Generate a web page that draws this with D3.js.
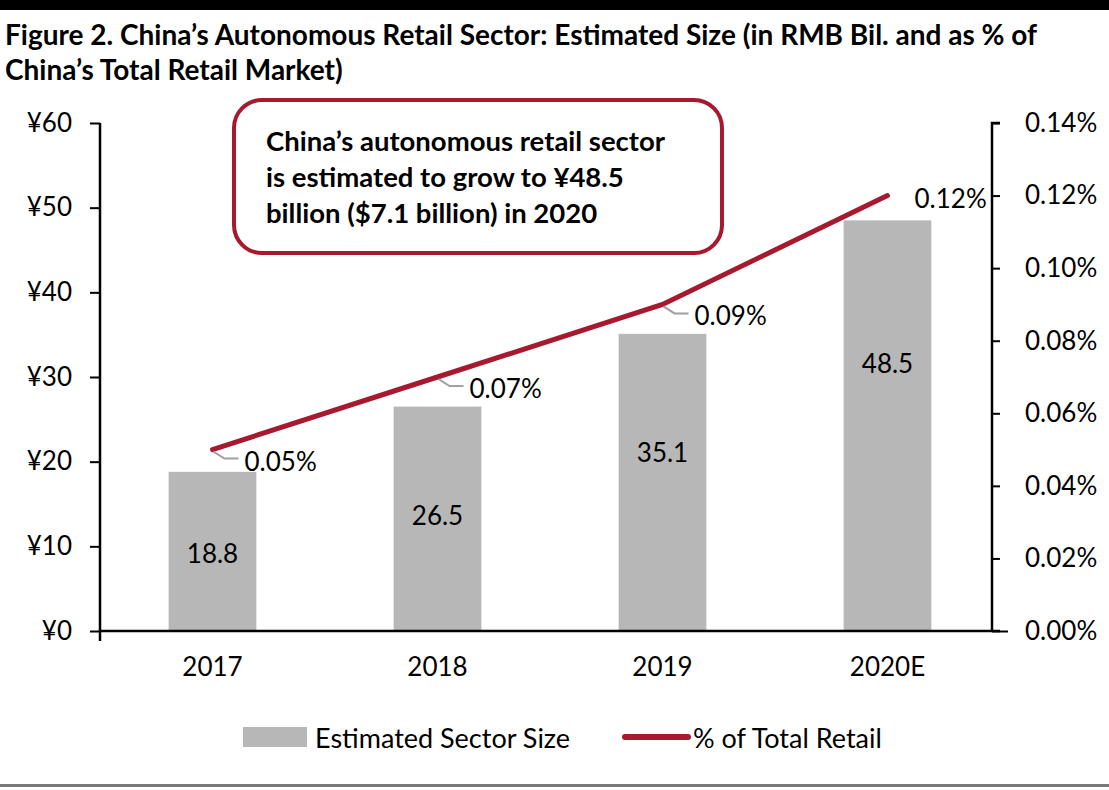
<!DOCTYPE html>
<html><head><meta charset="utf-8">
<script src="https://cdn.jsdelivr.net/npm/d3@7"></script>
<style>body{margin:0;background:#fff}svg{display:block}text{font-family:Lato,"Open Sans",sans-serif}</style>
</head><body>
<svg id="c" width="1109" height="790"></svg>
<script>
const categories = ["2017","2018","2019","2020E"];
const sectorSize = [18.8, 26.5, 35.1, 48.5];
const sizeLabels = ["18.8","26.5","35.1","48.5"];
const sizeLabelAt = [9.2, 13.7, 21.1, 31.7];
const pctRetail = [0.05, 0.07, 0.09, 0.12];
const pctLabels = ["0.05%","0.07%","0.09%","0.12%"];
const leftTicks = [0,10,20,30,40,50,60];
const rightTicks = [0,0.02,0.04,0.06,0.08,0.10,0.12,0.14];
const titleLines = ["Figure 2. China\u2019s Autonomous Retail Sector: Estimated Size (in RMB Bil. and as % of","China\u2019s Total Retail Market)"];
const noteLines = ["China\u2019s autonomous retail sector","is estimated to grow to \u00a548.5","billion ($7.1 billion) in 2020"];
const legendItems = ["Estimated Sector Size","% of Total Retail"];

const RED = "#A6192E", GRAY = "#B7B7B7";
const svg = d3.select("#c");
const L = 100, R = 1000, T = 123, B = 631;
const FS = 26;

svg.append("rect").attr("x",0).attr("y",0).attr("width",1109).attr("height",10).attr("fill","#000");
svg.append("g").selectAll("text").data(titleLines).join("text")
  .attr("x",5).attr("y",(d,i)=>45+i*35).attr("font-size",28).attr("font-weight",700).attr("fill","#000").text(d=>d);

const x = d3.scaleBand().domain(categories).range([L,R]).paddingInner(0.61).paddingOuter(0.305);
const y = d3.scaleLinear().domain([0,60]).range([B,T]);
const y2 = d3.scaleLinear().domain([0,0.14]).range([B,T]);

// bars
svg.append("g").selectAll("rect").data(sectorSize).join("rect")
  .attr("x",(d,i)=>x(categories[i])).attr("width",x.bandwidth())
  .attr("y",d=>y(d)).attr("height",d=>B-y(d)).attr("fill",GRAY);

// axes
const ax = svg.append("g").attr("transform",`translate(${L},0)`)
  .call(d3.axisLeft(y).tickValues(leftTicks).tickSize(10).tickFormat(d=>"\u00a5"+d).tickPadding(18));
const ax2 = svg.append("g").attr("transform",`translate(${R},0)`)
  .call(d3.axisRight(y2).tickValues(rightTicks).tickSize(-8).tickFormat(d=>d.toFixed(2)+"%").tickPadding(25));
const axb = svg.append("g").attr("transform",`translate(0,${B})`)
  .call(d3.axisBottom(x).tickSize(0).tickPadding(27));
[ax,ax2,axb].forEach(g=>{
  g.selectAll("path").attr("stroke","#000").attr("stroke-width",2.5);
  g.selectAll("line").attr("stroke","#000").attr("stroke-width",2);
  g.selectAll("text").attr("font-size",FS).attr("fill","#000").style("font-family","Lato,sans-serif");
});
ax.select(".domain").attr("d",`M0,${T}V${B+10}`);
ax2.select(".domain").attr("d",`M0,${T}H-8V${B}`);
ax2.selectAll(".tick line").filter(d=>d===0).attr("x1",-8).attr("x2",8);
axb.select(".domain").attr("d",`M${L},0H${R}`);

// bar labels
svg.append("g").selectAll("text").data(sizeLabels).join("text")
  .attr("x",(d,i)=>x(categories[i])+x.bandwidth()/2).attr("y",(d,i)=>y(sizeLabelAt[i]))
  .attr("text-anchor","middle").attr("dominant-baseline","central").attr("font-size",FS).attr("fill","#000").text(d=>d);

// line
const cx = i => x(categories[i])+x.bandwidth()/2;
svg.append("path").datum(pctRetail)
  .attr("d", d3.line().x((d,i)=>cx(i)).y(d=>y2(d)))
  .attr("fill","none").attr("stroke",RED).attr("stroke-width",5).attr("stroke-linecap","round");

// leader lines and pct labels
pctRetail.forEach((v,i)=>{
  const px = cx(i), py = y2(v);
  if (i < 3) {
    svg.append("path").attr("d",`M${px+1},${py+2}L${px+12},${py+9}H${px+26}`)
      .attr("fill","none").attr("stroke","#A0A0A0").attr("stroke-width",2);
    svg.append("text").attr("x",px+32).attr("y",py+11).attr("dominant-baseline","central")
      .attr("font-size",FS).attr("fill","#000").text(pctLabels[i]);
  } else {
    svg.append("text").attr("x",px+27).attr("y",py+2).attr("dominant-baseline","central")
      .attr("font-size",FS).attr("fill","#000").text(pctLabels[i]);
  }
});

// annotation box
svg.append("rect").attr("x",234).attr("y",100).attr("width",488).attr("height",153).attr("rx",28)
  .attr("fill","#fff").attr("stroke",RED).attr("stroke-width",4);
svg.append("g").selectAll("text").data(noteLines).join("text")
  .attr("x",266).attr("y",(d,i)=>151+i*36).attr("font-size",27.5).attr("font-weight",700).attr("fill","#000").text(d=>d);

// legend
svg.append("rect").attr("x",243).attr("y",727).attr("width",64).attr("height",20).attr("fill",GRAY);
svg.append("text").attr("x",315).attr("y",737).attr("dominant-baseline","central").attr("font-size",27).attr("fill","#000").text(legendItems[0]);
svg.append("line").attr("x1",625).attr("x2",688).attr("y1",737).attr("y2",737).attr("stroke",RED).attr("stroke-width",6).attr("stroke-linecap","round");
svg.append("text").attr("x",693).attr("y",737).attr("dominant-baseline","central").attr("font-size",27).attr("fill","#000").text(legendItems[1]);

svg.append("rect").attr("x",0).attr("y",784).attr("width",1109).attr("height",3).attr("fill","#7a7a7a");
</script>
</body></html>
